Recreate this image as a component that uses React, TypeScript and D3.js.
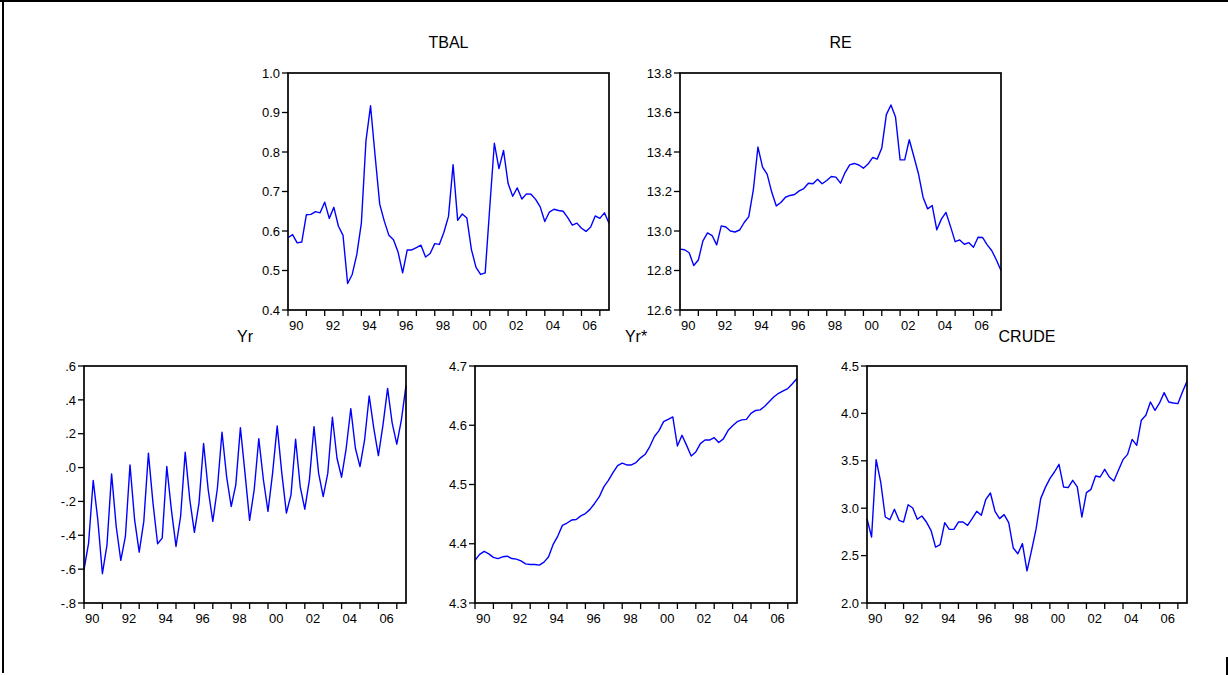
import React from 'react';
import * as d3 from 'd3';

// quarterly observations, 1990Q1 .. 2007Q3
const startYear = 1990;
const years = d3.range(1990, 2008);

const tbal = [
	0.583, 0.591, 0.570, 0.572, 0.641, 0.642, 0.649, 0.646, 0.673, 0.632,
	0.660, 0.612, 0.589, 0.467, 0.490, 0.540, 0.620, 0.828, 0.917, 0.790,
	0.668, 0.625, 0.589, 0.578, 0.547, 0.494, 0.552, 0.552, 0.558, 0.564,
	0.534, 0.543, 0.568, 0.566, 0.597, 0.637, 0.768, 0.627, 0.643, 0.633,
	0.553, 0.508, 0.490, 0.494, 0.660, 0.822, 0.758, 0.804, 0.720, 0.688,
	0.709, 0.681, 0.694, 0.693, 0.680, 0.661, 0.624, 0.648, 0.655, 0.652,
	0.650, 0.634, 0.615, 0.620, 0.607, 0.599, 0.610, 0.638, 0.632, 0.646,
	0.620,
];

const re = [
	12.908, 12.905, 12.890, 12.825, 12.853, 12.950, 12.990, 12.977, 12.930, 13.026,
	13.020, 13.000, 12.995, 13.005, 13.043, 13.073, 13.210, 13.425, 13.323, 13.288,
	13.197, 13.127, 13.144, 13.171, 13.180, 13.185, 13.203, 13.215, 13.242, 13.239,
	13.262, 13.239, 13.256, 13.276, 13.273, 13.242, 13.296, 13.335, 13.342, 13.334,
	13.318, 13.339, 13.372, 13.364, 13.420, 13.589, 13.638, 13.577, 13.360, 13.360,
	13.462, 13.377, 13.290, 13.171, 13.112, 13.129, 13.006, 13.060, 13.094, 13.022,
	12.946, 12.955, 12.933, 12.941, 12.918, 12.968, 12.967, 12.930, 12.900, 12.853,
	12.800,
];

const yr = [
	-0.603, -0.446, -0.076, -0.308, -0.627, -0.456, -0.037, -0.348, -0.548, -0.407,
	0.016, -0.308, -0.499, -0.318, 0.085, -0.210, -0.450, -0.417, 0.006, -0.250,
	-0.466, -0.289, 0.091, -0.190, -0.383, -0.210, 0.142, -0.131, -0.318, -0.122,
	0.209, -0.053, -0.230, -0.102, 0.236, -0.033, -0.312, -0.131, 0.171, -0.072,
	-0.259, -0.033, 0.246, -0.033, -0.269, -0.161, 0.167, -0.112, -0.246, -0.073,
	0.242, -0.033, -0.171, -0.033, 0.297, 0.055, -0.057, 0.114, 0.348, 0.114,
	0.006, 0.163, 0.423, 0.232, 0.071, 0.252, 0.468, 0.262, 0.138, 0.282,
	0.484,
];

const yrStar = [
	4.372, 4.382, 4.387, 4.383, 4.377, 4.375, 4.378, 4.379, 4.375, 4.374,
	4.371, 4.366, 4.365, 4.365, 4.364, 4.369, 4.378, 4.399, 4.413, 4.431,
	4.435, 4.440, 4.441, 4.447, 4.451, 4.458, 4.468, 4.479, 4.496, 4.507,
	4.520, 4.532, 4.536, 4.533, 4.533, 4.537, 4.545, 4.551, 4.564, 4.581,
	4.591, 4.606, 4.610, 4.614, 4.565, 4.583, 4.566, 4.548, 4.555, 4.569,
	4.575, 4.575, 4.579, 4.571, 4.577, 4.591, 4.599, 4.606, 4.609, 4.610,
	4.620, 4.625, 4.626, 4.632, 4.640, 4.648, 4.654, 4.658, 4.662, 4.670,
	4.679,
];

const crude = [
	2.890, 2.696, 3.512, 3.276, 2.907, 2.879, 2.988, 2.872, 2.854, 3.037,
	3.002, 2.883, 2.918, 2.854, 2.767, 2.590, 2.615, 2.847, 2.777, 2.777,
	2.854, 2.854, 2.819, 2.890, 2.967, 2.925, 3.094, 3.160, 2.967, 2.890,
	2.932, 2.847, 2.580, 2.520, 2.626, 2.338, 2.555, 2.784, 3.101, 3.217,
	3.312, 3.382, 3.463, 3.224, 3.217, 3.294, 3.224, 2.907, 3.164, 3.199,
	3.340, 3.329, 3.410, 3.329, 3.287, 3.400, 3.512, 3.568, 3.726, 3.663,
	3.927, 3.980, 4.120, 4.032, 4.110, 4.219, 4.120, 4.110, 4.103, 4.226,
	4.338,
];

const tbalTicks = [0.4, 0.5, 0.6, 0.7, 0.8, 0.9, 1.0];
const reTicks = [12.6, 12.8, 13.0, 13.2, 13.4, 13.6, 13.8];
const yrTicks = [-0.8, -0.6, -0.4, -0.2, 0, 0.2, 0.4, 0.6];
const yrStarTicks = [4.3, 4.4, 4.5, 4.6, 4.7];
const crudeTicks = [2.0, 2.5, 3.0, 3.5, 4.0, 4.5];

const font = 'Arial, "Liberation Sans", sans-serif';

const fixed1 = v => v.toFixed(1);
// EViews style: no leading zero
const dotted = v => {
	const s = Math.abs(v).toFixed(1).replace(/^0/, '');
	return (v < -1e-9 ? '-' : '') + s;
};

const Panel = ({ title, values, ticks, format, left, top, width, height, titleY, titleSize }) => {
	const x = d3.scaleLinear().domain([0, values.length - 1]).range([left, left + width]);
	const y = d3.scaleLinear().domain([ticks[0], ticks[ticks.length - 1]]).range([top + height, top]);
	const line = d3.line().x((d, i) => x(i)).y(d => y(d));
	const bottom = top + height;

	return (
		<g>
			<text x={left + width / 2} y={titleY} textAnchor='middle' fontFamily={font} fontSize={titleSize} fill='#000'>
				{title}
			</text>
			<path d={line(values)} fill='none' stroke='#0000FF' strokeWidth={1.4} strokeLinejoin='round' />
			<rect x={left} y={top} width={width} height={height} fill='none' stroke='#000' strokeWidth={1.7} />
			{ticks.map((t, i) => (
				<g key={'y' + i}>
					<line x1={left - 6} x2={left} y1={y(t)} y2={y(t)} stroke='#000' strokeWidth={1.3} />
					<text x={left - 8} y={y(t)} dy='0.36em' textAnchor='end' fontFamily={font} fontSize={13} fill='#000'>
						{format(t)}
					</text>
				</g>
			))}
			{years.map(yy => {
				const xi = x((yy - startYear) * 4);
				return (
					<g key={'x' + yy}>
						<line x1={xi} x2={xi} y1={bottom} y2={bottom + 6} stroke='#000' strokeWidth={1.3} />
						{yy % 2 === 0 && yy < 2007 ? (
							<text x={xi + 1} y={bottom + 20} fontFamily={font} fontSize={13} fill='#000'>
								{String(yy).slice(2)}
							</text>
						) : null}
					</g>
				);
			})}
		</g>
	);
};

const App = () => {
	return (
		<svg width={1228} height={675} style={{ position: 'absolute', left: 0, top: 0, display: 'block', background: '#fff' }}>
			<rect x={0} y={0} width={1228} height={675} fill='#fff' />
			<line x1={0} x2={1228} y1={1} y2={1} stroke='#000' strokeWidth={2} />
			<line x1={3} x2={3} y1={0} y2={673} stroke='#000' strokeWidth={2} />
			<line x1={1227} x2={1227} y1={657} y2={675} stroke='#000' strokeWidth={2} />

			<Panel title='TBAL' values={tbal} ticks={tbalTicks} format={fixed1}
				left={288} top={73} width={321} height={237} titleY={48} titleSize={16} />
			<Panel title='RE' values={re} ticks={reTicks} format={fixed1}
				left={680} top={73} width={321} height={237} titleY={48} titleSize={16} />
			<Panel title='Yr' values={yr} ticks={yrTicks} format={dotted}
				left={84} top={366} width={322} height={237} titleY={342} titleSize={16} />
			<Panel title='Yr*' values={yrStar} ticks={yrStarTicks} format={fixed1}
				left={475} top={366} width={322} height={237} titleY={342} titleSize={16} />
			<Panel title='CRUDE' values={crude} ticks={crudeTicks} format={fixed1}
				left={867} top={366} width={320} height={237} titleY={342} titleSize={16} />
		</svg>
	);
};

export default App;
